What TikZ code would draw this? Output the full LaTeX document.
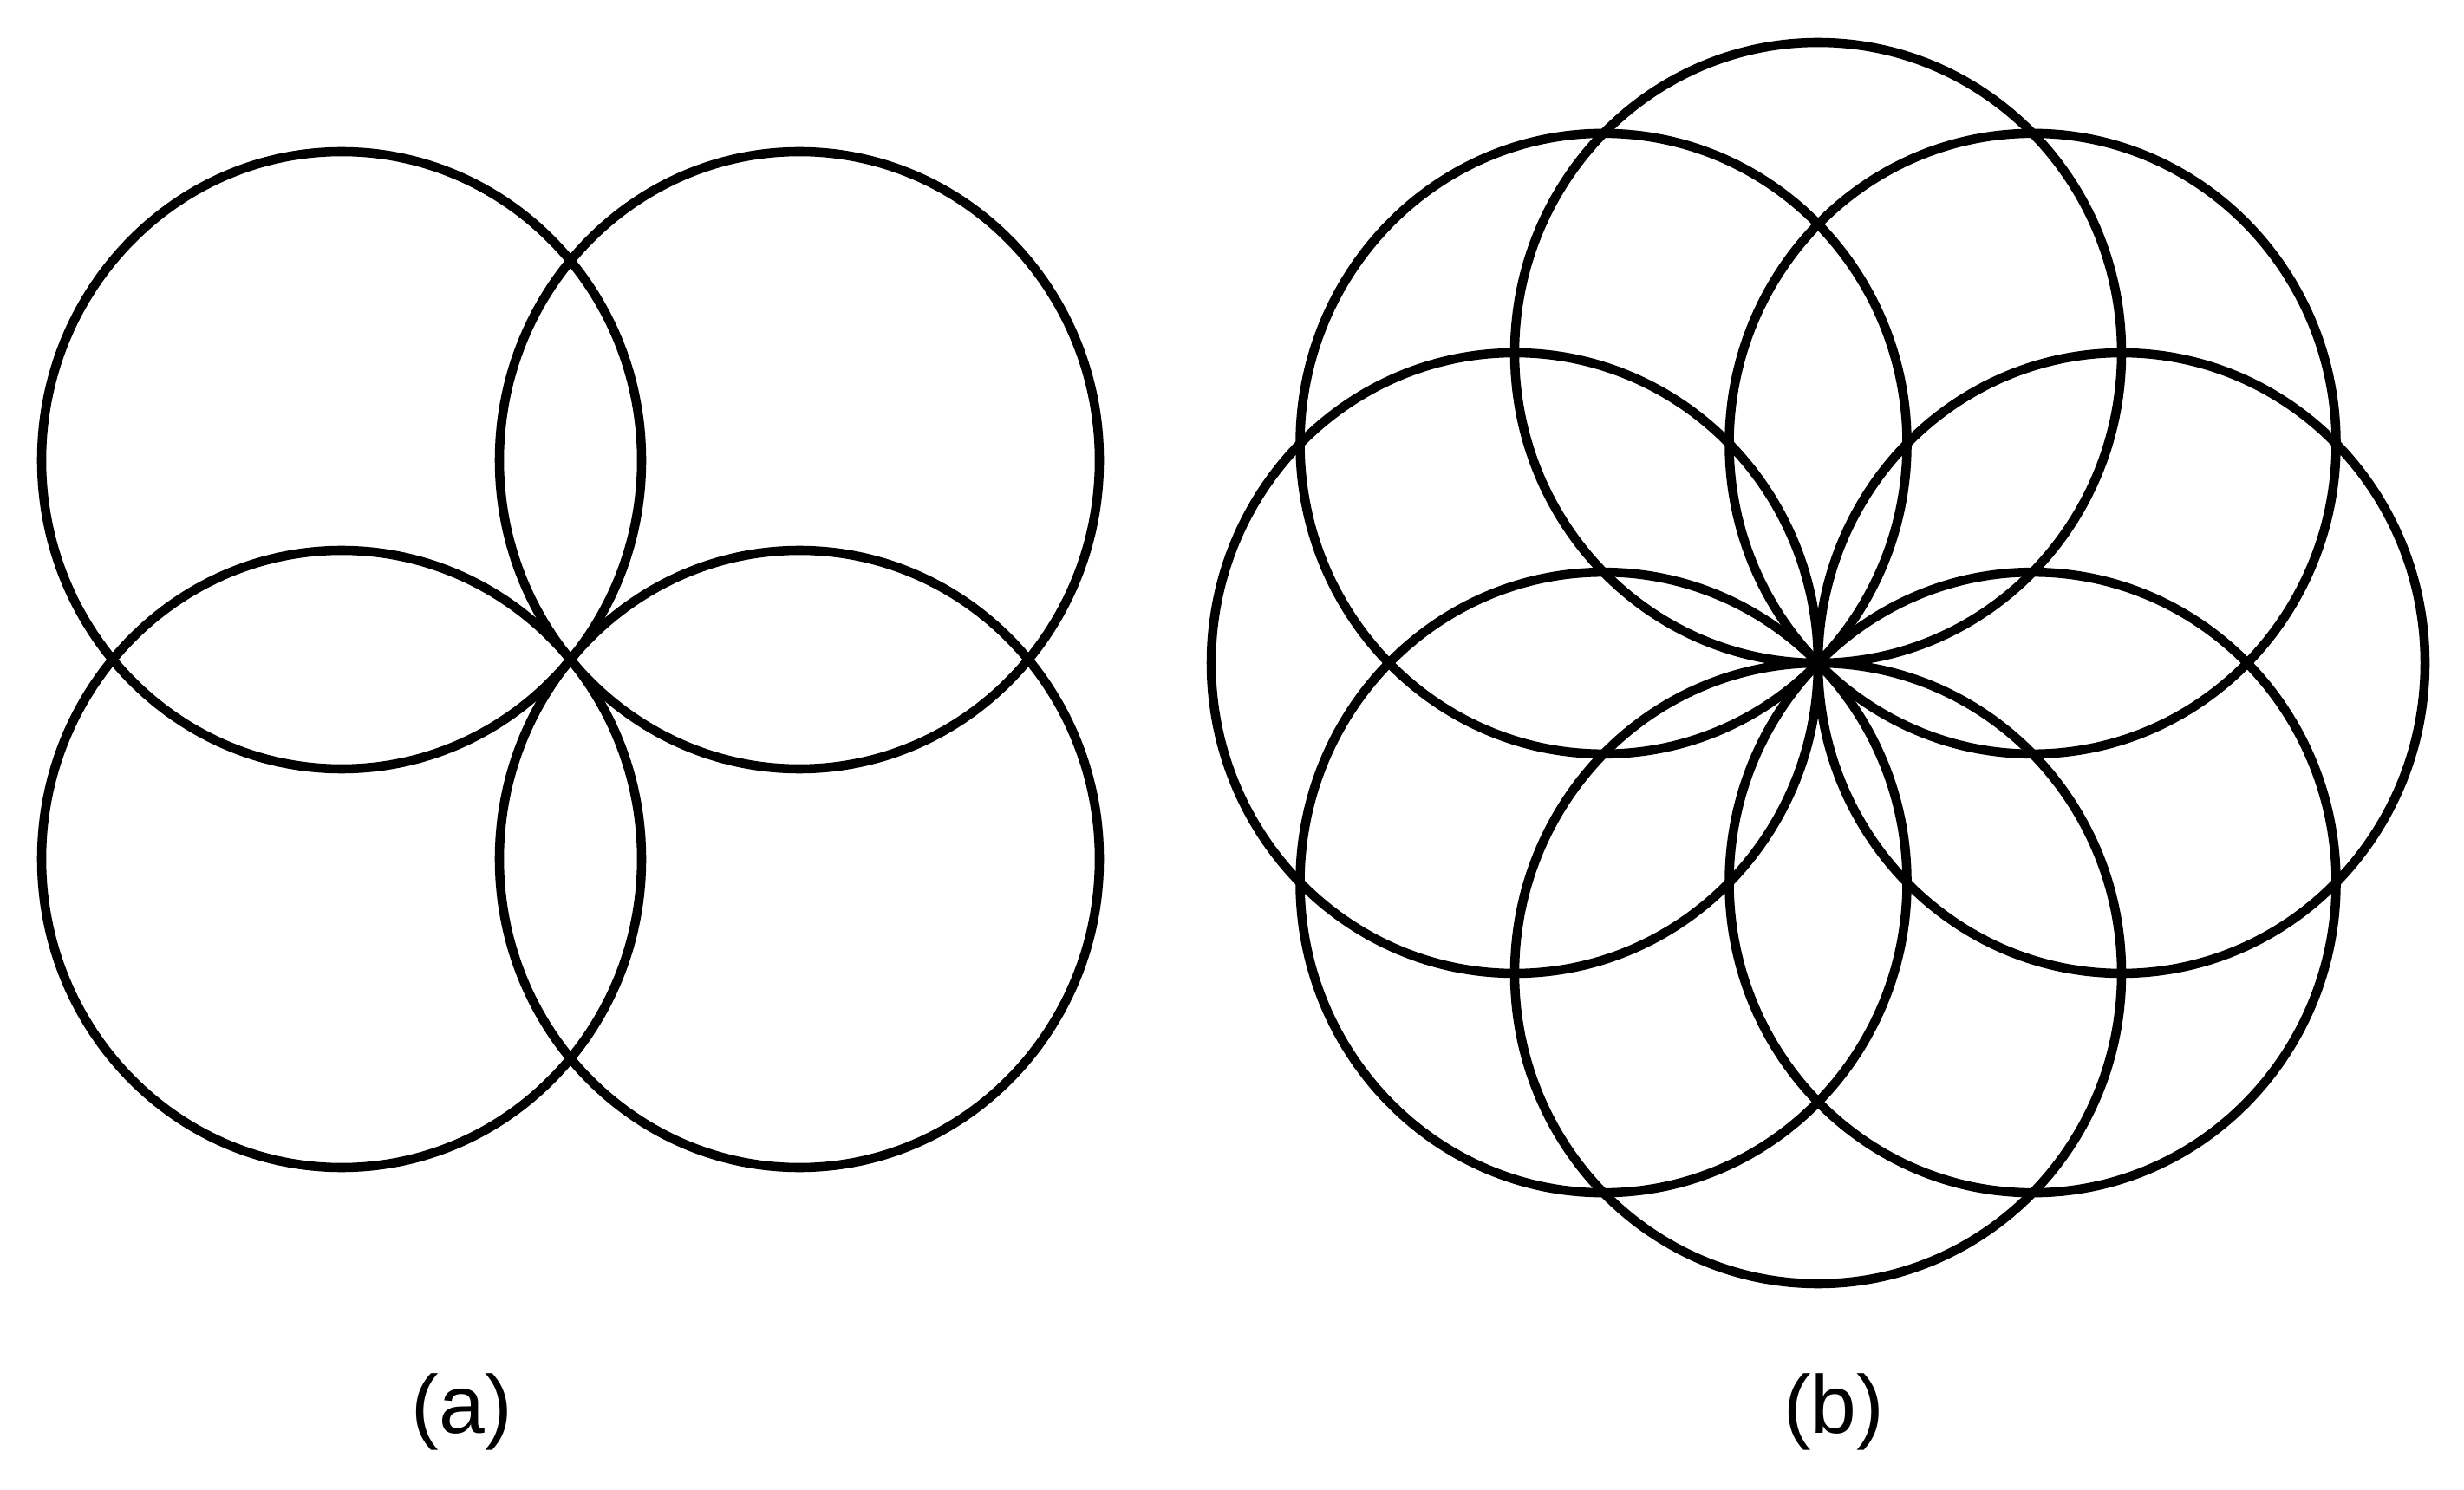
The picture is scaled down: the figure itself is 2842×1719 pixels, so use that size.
\documentclass[tikz,border=0pt]{standalone}
\usepackage{fontspec}
\setmainfont{Liberation Sans}
\usetikzlibrary{calc}

\tikzset{ring/.style={line width=3pt},
  lbl/.style={anchor=base, inner sep=0pt, font=\fontsize{27}{32}\selectfont}}

\begin{document}
\begin{tikzpicture}[x=0.01cm,y=-0.01cm]
	\useasboundingbox (0,0) rectangle (2842,1719);
	% (a) four rings through one point
	\coordinate (ca) at (658,761);
	\foreach \dx/\dy in {-264/-230, 264/-230, -264/230, 264/230}
		\draw[ring] ($(ca)+(\dx,\dy)$) ellipse [x radius=346, y radius=356];
	% (b) eight rings through one point
	\coordinate (cb) at (2097,765);
	\foreach \a in {0,45,...,315}
		\draw[ring] ($(cb)+({350*cos(\a)},{358*sin(\a)})$) ellipse [x radius=350, y radius=358];
	\node[lbl] (la) at (533,1653) {(a)};
	\node[lbl] (lb) at (2115,1653) {(b)};
\end{tikzpicture}
\end{document}
